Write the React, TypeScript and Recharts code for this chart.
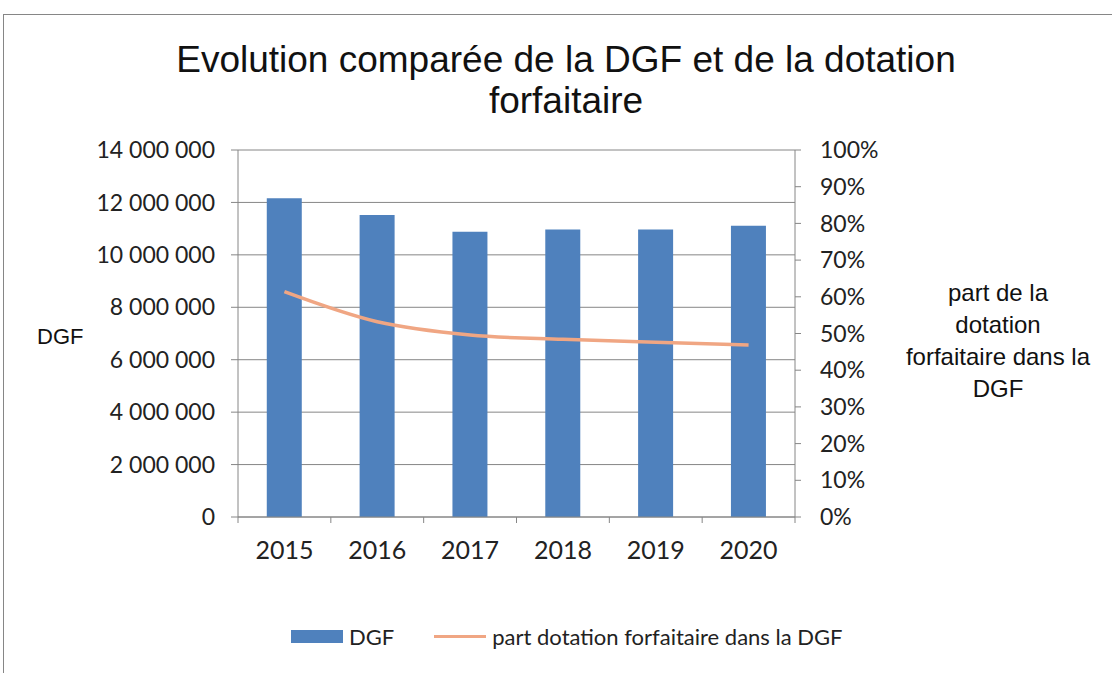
import React from 'react';
import { ComposedChart, Bar, Line, XAxis, YAxis, CartesianGrid, Legend } from 'recharts';

const years = ['2015', '2016', '2017', '2018', '2019', '2020'];
const dgfValues = [12160000, 11520000, 10880000, 10970000, 10970000, 11110000];
const partValues = [0.614, 0.532, 0.496, 0.484, 0.476, 0.469];
const leftTicks = [0, 2000000, 4000000, 6000000, 8000000, 10000000, 12000000, 14000000];
const rightTicks = [0, 0.1, 0.2, 0.3, 0.4, 0.5, 0.6, 0.7, 0.8, 0.9, 1];
const titleLines = ['Evolution comparée de la DGF et de la dotation', 'forfaitaire'];
const rightLabelLines = ['part de la', 'dotation', 'forfaitaire dans la', 'DGF'];
const leftLabel = 'DGF';
const seriesNames = { dgf: 'DGF', part: 'part dotation forfaitaire dans la DGF' };

const data = years.map((y, i) => ({ year: y, dgf: dgfValues[i], part: partValues[i] }));

const W = 1112;
const H = 673;
const PLOT_LEFT = 238;
const PLOT_RIGHT = 795;
const BAND = (PLOT_RIGHT - PLOT_LEFT) / years.length;
const GRAY = '#868686';
const BLUE = '#4F81BD';
const SALMON = '#F0A683';
const TICK_FONT = 'Lato, "Open Sans", sans-serif';
const ARIAL = '"Liberation Sans", Arial, sans-serif';

const fmtSpace = (v: number) => String(v).replace(/\B(?=(\d{3})+(?!\d))/g, ' ');
const fmtPct = (v: number) => `${Math.round(v * 100)}%`;

const XTick = (props: any) => {
  const { x, y, payload, index } = props;
  const half = BAND / 2;
  return (
    <g>
      <line x1={x - half} x2={x - half} y1={y} y2={y + 6} stroke={GRAY} strokeWidth={1} />
      {index === years.length - 1 && (
        <line x1={x + half} x2={x + half} y1={y} y2={y + 6} stroke={GRAY} strokeWidth={1} />
      )}
      <text x={x} y={y + 42} textAnchor="middle" fontFamily={TICK_FONT} fontSize={25} fill="#222">
        {payload.value}
      </text>
    </g>
  );
};

const LegendContent = (props: any) => {
  const payload = props.payload || [];
  return (
    <div style={{ display: 'flex', alignItems: 'center', paddingLeft: 291, height: 28, fontFamily: TICK_FONT, fontSize: 22, color: '#222' }}>
      {payload.map((entry: any, i: number) => (
        <div key={i} style={{ display: 'flex', alignItems: 'center', marginRight: 40 }}>
          {entry.dataKey === 'part' ? (
            <div style={{ width: 52, height: 3, background: SALMON }} />
          ) : (
            <div style={{ width: 52, height: 13, background: BLUE }} />
          )}
          <span style={{ marginLeft: 6, whiteSpace: 'nowrap' }}>{entry.value}</span>
        </div>
      ))}
    </div>
  );
};

export default function App() {
  return (
    <div style={{ position: 'absolute', left: 0, top: 0, width: W, height: H, background: '#fff', overflow: 'hidden' }}>
      <div style={{ position: 'absolute', left: 3, top: 14, width: W, height: H, borderTop: `1px solid ${GRAY}`, borderLeft: `1px solid ${GRAY}` }} />
      <ComposedChart
        width={W}
        height={H}
        data={data}
        margin={{ top: 150, right: 0, bottom: 78, left: 0 }}
        barCategoryGap="31%"
      >
        <CartesianGrid yAxisId="left" vertical={false} stroke={GRAY} strokeWidth={1} />
        <XAxis
          dataKey="year"
          height={50}
          axisLine={{ stroke: GRAY }}
          tickLine={false}
          tickSize={0}
          tickMargin={0}
          tick={<XTick />}
          interval={0}
        />
        <YAxis
          yAxisId="left"
          width={PLOT_LEFT}
          domain={[0, 14000000]}
          ticks={leftTicks}
          tickFormatter={fmtSpace}
          axisLine={{ stroke: GRAY }}
          tickLine={{ stroke: GRAY }}
          tickSize={7}
          tickMargin={16}
          tick={{ fontFamily: TICK_FONT, fontSize: 23, fill: '#222' }}
          interval={0}
        />
        <YAxis
          yAxisId="right"
          orientation="right"
          width={W - PLOT_RIGHT}
          domain={[0, 1]}
          ticks={rightTicks}
          tickFormatter={fmtPct}
          axisLine={{ stroke: GRAY }}
          tickLine={{ stroke: GRAY }}
          tickSize={6}
          tickMargin={19}
          tick={{ fontFamily: TICK_FONT, fontSize: 23, fill: '#222', textAnchor: 'start' }}
          interval={0}
        />
        <Bar yAxisId="left" dataKey="dgf" name={seriesNames.dgf} fill={BLUE} isAnimationActive={false} />
        <Line
          yAxisId="right"
          dataKey="part"
          name={seriesNames.part}
          type="monotone"
          stroke={SALMON}
          strokeWidth={3.5}
          dot={false}
          activeDot={false}
          isAnimationActive={false}
        />
        <Legend
          verticalAlign="bottom"
          content={<LegendContent />}
          wrapperStyle={{ position: 'absolute', top: 622, left: 0, width: W, height: 28 }}
        />
      </ComposedChart>
      <div style={{ position: 'absolute', left: 0, top: 39, width: 1132, textAlign: 'center', fontFamily: ARIAL, fontSize: 37, lineHeight: '41px', color: '#111' }}>
        {titleLines.map((t, i) => (
          <div key={i}>{t}</div>
        ))}
      </div>
      <div style={{ position: 'absolute', left: 37, top: 323, fontFamily: ARIAL, fontSize: 22, lineHeight: '28px', color: '#111' }}>
        {leftLabel}
      </div>
      <div style={{ position: 'absolute', left: 898, top: 277, width: 200, textAlign: 'center', fontFamily: ARIAL, fontSize: 24, lineHeight: '32px', color: '#111' }}>
        {rightLabelLines.map((t, i) => (
          <div key={i}>{t}</div>
        ))}
      </div>
    </div>
  );
}
